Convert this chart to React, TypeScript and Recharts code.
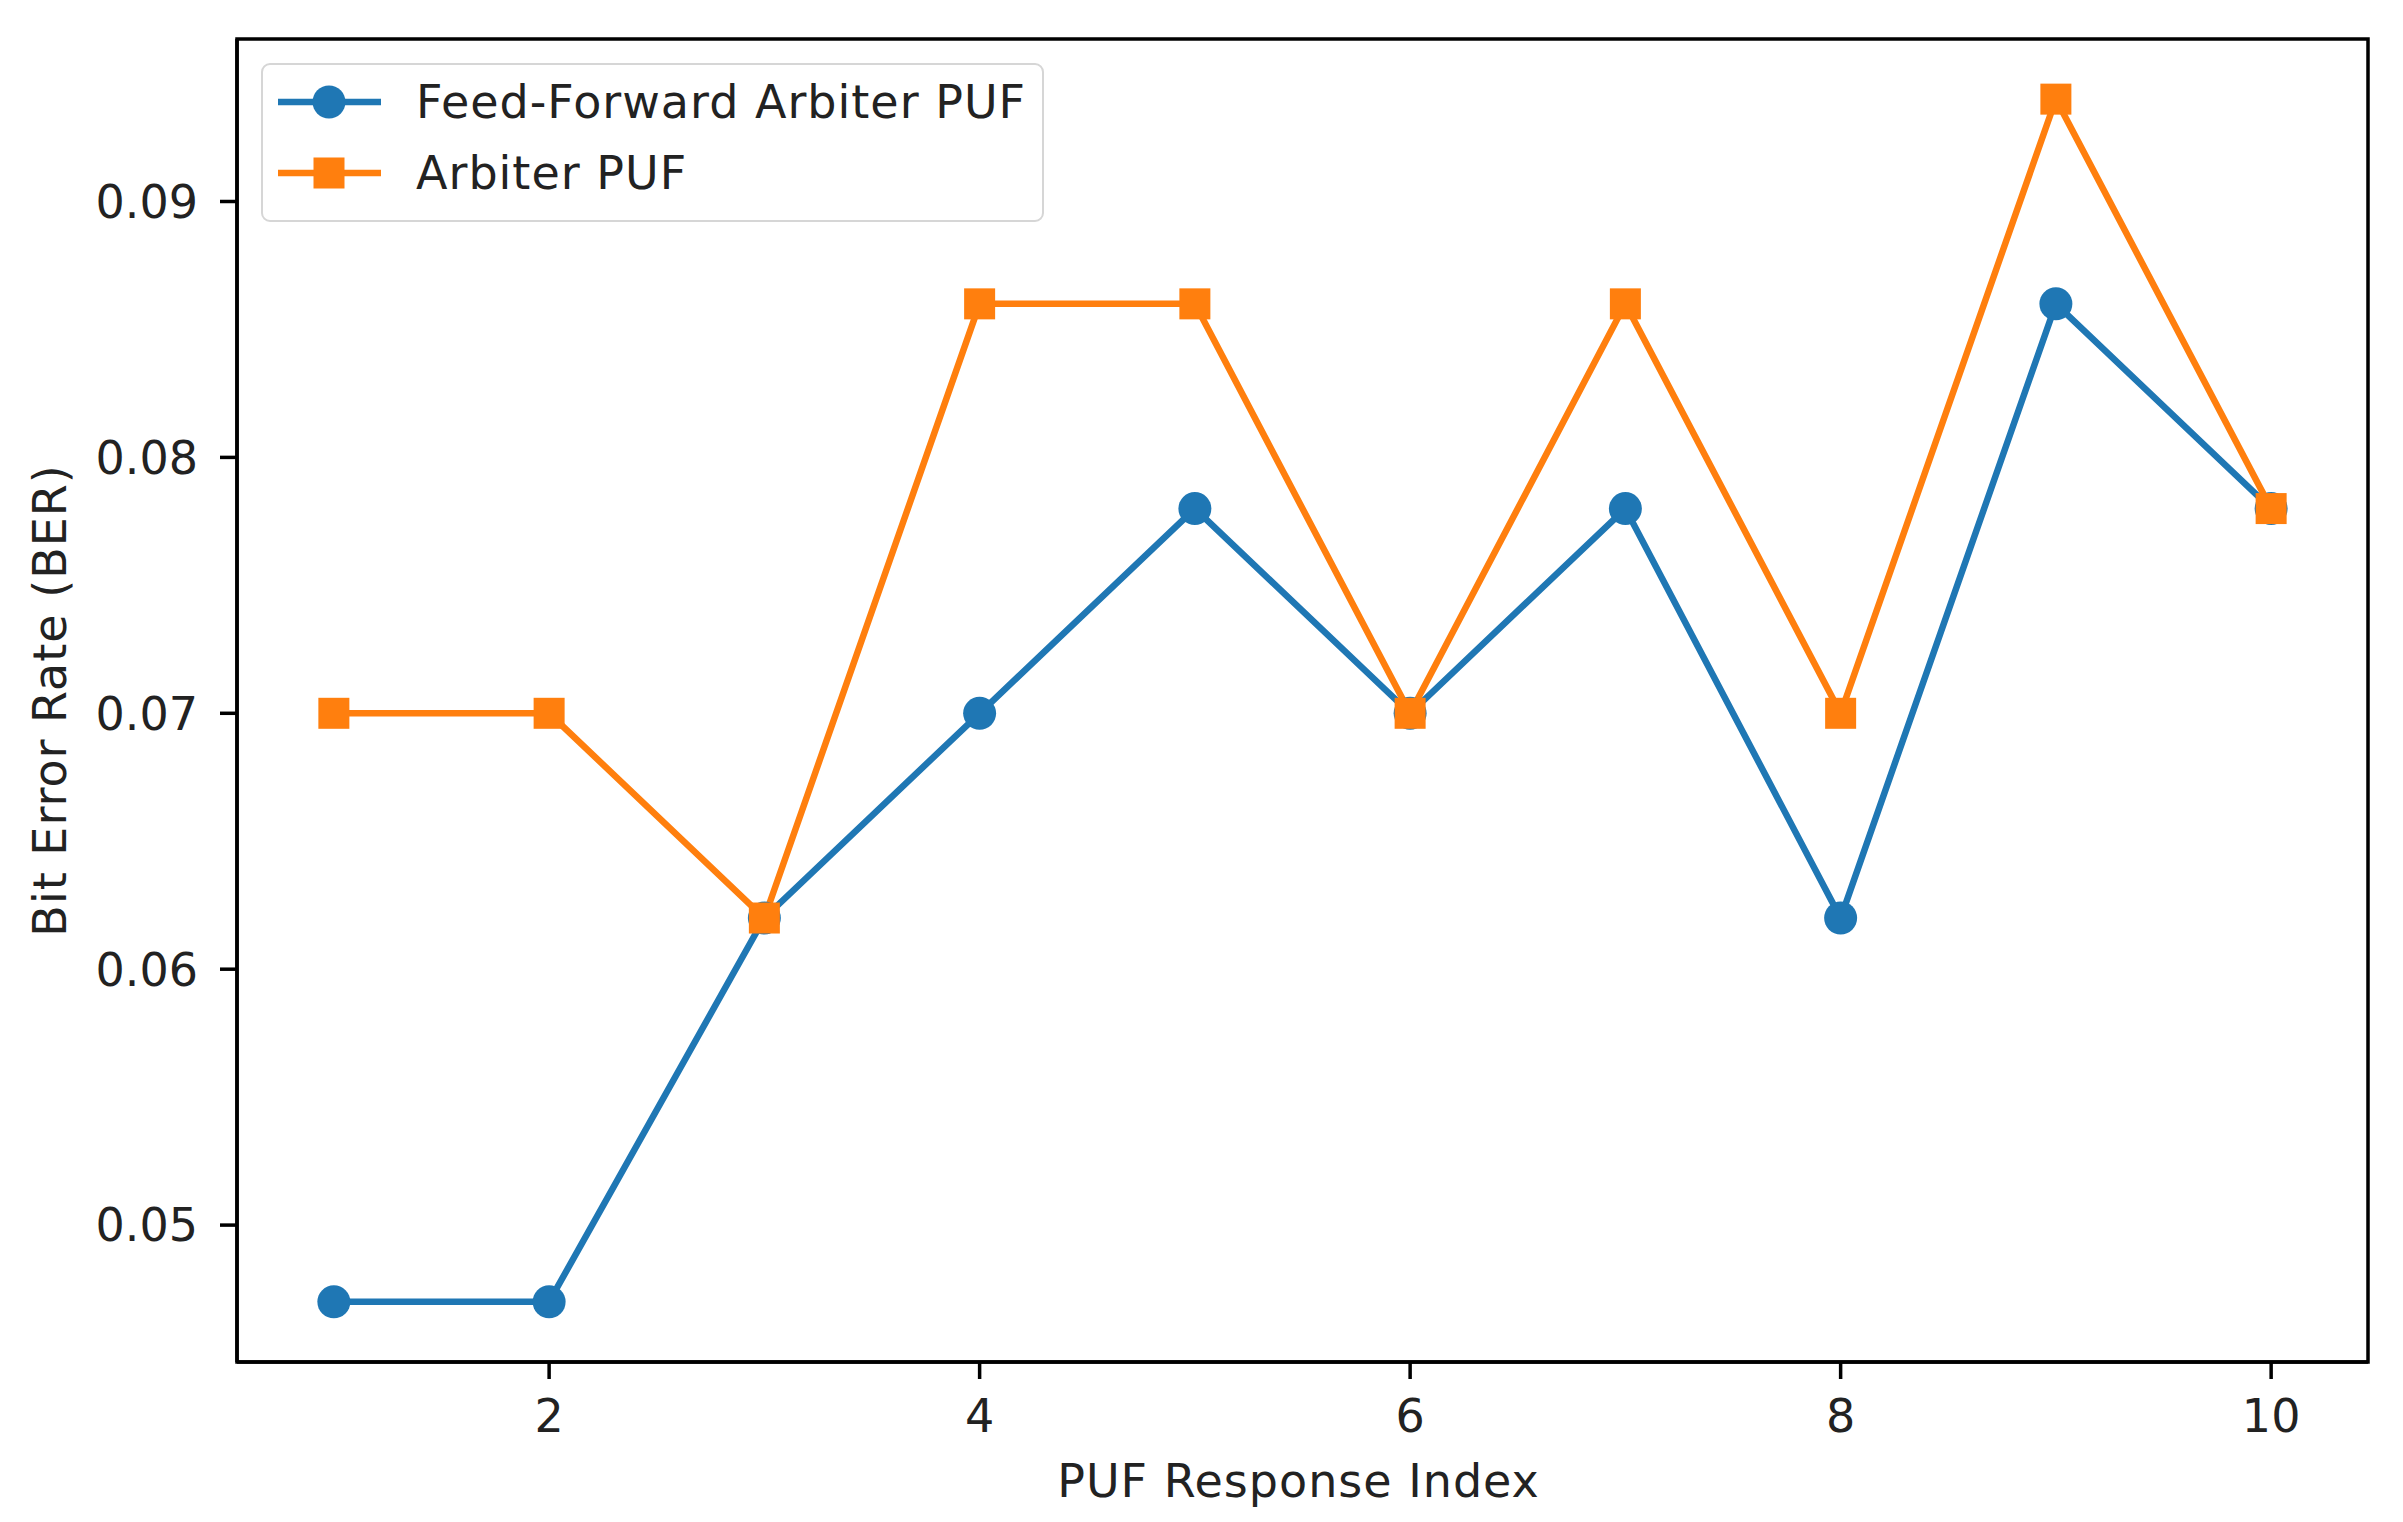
import React from 'react';
import { LineChart, Line, XAxis, YAxis, Legend, ReferenceArea } from 'recharts';

// PUF response index vs bit error rate
const responseIndex = [1, 2, 3, 4, 5, 6, 7, 8, 9, 10];
const feedForwardBer = [0.047, 0.047, 0.062, 0.07, 0.078, 0.07, 0.078, 0.062, 0.086, 0.078];
const arbiterBer = [0.07, 0.07, 0.062, 0.086, 0.086, 0.07, 0.086, 0.07, 0.094, 0.078];
const xTicks = [2, 4, 6, 8, 10];
const yTicks = [0.05, 0.06, 0.07, 0.08, 0.09];
const seriesNames = ['Feed-Forward Arbiter PUF', 'Arbiter PUF'];

const BLUE = '#1f77b4';
const ORANGE = '#ff7f0e';
const FONT = '"DejaVu Sans", sans-serif';
const FS = 46;

const data = responseIndex.map((idx, i) => ({ idx, ff: feedForwardBer[i], arb: arbiterBer[i] }));

// matplotlib style 5% margins
const pad = (lo: number, hi: number): [number, number] => [lo - (hi - lo) * 0.05, hi + (hi - lo) * 0.05];
const xDomain = pad(Math.min(...responseIndex), Math.max(...responseIndex));
const yDomain = pad(Math.min(...feedForwardBer, ...arbiterBer), Math.max(...feedForwardBer, ...arbiterBer));

const CircleDot = (p: any) => <circle key={`c-${p.index}`} cx={p.cx} cy={p.cy} r={16.5} fill={BLUE} />;
const SquareDot = (p: any) => (
  <rect key={`s-${p.index}`} x={p.cx - 15.5} y={p.cy - 15.5} width={31} height={31} fill={ORANGE} />
);

const YLabel = (props: any) => {
  const vb = props.viewBox || { y: 39, height: 1323 };
  const x = 66;
  const y = vb.y + vb.height / 2;
  return (
    <text
      x={x}
      y={y}
      transform={`rotate(-90, ${x}, ${y})`}
      textAnchor="middle"
      fill="#222"
      fontSize={FS}
      fontFamily={FONT}
      letterSpacing={1}
    >
      Bit Error Rate (BER)
    </text>
  );
};

const LegendBox = () => {
  const colors = [BLUE, ORANGE];
  return (
    <div
      style={{
        width: 783,
        height: 159,
        boxSizing: 'border-box',
        border: '2px solid #d6d6d6',
        borderRadius: 9,
        background: 'rgba(255,255,255,0.8)',
        paddingTop: 1,
        fontFamily: FONT,
        fontSize: FS,
        letterSpacing: 1,
        color: '#222',
      }}
    >
      {seriesNames.map((name, i) => (
        <div key={name} style={{ height: 71, display: 'flex', alignItems: 'center' }}>
          <svg width={140} height={40} style={{ marginLeft: 13, flex: 'none' }}>
            <line x1={2} x2={105} y1={20} y2={20} stroke={colors[i]} strokeWidth={6.5} />
            {i === 0 ? (
              <circle cx={53} cy={20} r={16.5} fill={BLUE} />
            ) : (
              <rect x={37.5} y={4.5} width={31} height={31} fill={ORANGE} />
            )}
          </svg>
          <span style={{ whiteSpace: 'nowrap' }}>{name}</span>
        </div>
      ))}
    </div>
  );
};

export default function App() {
  return (
    <div style={{ position: 'absolute', left: 0, top: 0, width: 2403, height: 1522, background: '#fff' }}>
      <LineChart width={2403} height={1522} data={data} margin={{ top: 39, right: 35, left: 0, bottom: 0 }}>
        <XAxis
          dataKey="idx"
          type="number"
          domain={xDomain}
          ticks={xTicks}
          allowDataOverflow
          height={160}
          stroke="#000"
          strokeWidth={3.5}
          tickSize={17}
          tickMargin={20}
          tick={{ fill: '#222', fontSize: FS, fontFamily: FONT }}
          label={{
            value: 'PUF Response Index',
            position: 'insideBottom',
            offset: 25,
            fill: '#222',
            fontSize: FS,
            fontFamily: FONT,
            letterSpacing: 1,
            dx: -4,
          }}
        />
        <YAxis
          type="number"
          domain={yDomain}
          ticks={yTicks}
          allowDataOverflow
          width={237}
          stroke="#000"
          strokeWidth={3.5}
          tickSize={17}
          tickMargin={22}
          tickFormatter={(v: number) => v.toFixed(2)}
          tick={{ fill: '#222', fontSize: FS, fontFamily: FONT }}
          label={<YLabel />}
        />
        <ReferenceArea
          x1={xDomain[0]}
          x2={xDomain[1]}
          y1={yDomain[0]}
          y2={yDomain[1]}
          fill="none"
          fillOpacity={0}
          stroke="#000"
          strokeWidth={3.5}
        />
        <Line
          dataKey="ff"
          name={seriesNames[0]}
          stroke={BLUE}
          strokeWidth={6.5}
          dot={CircleDot}
          activeDot={false}
          isAnimationActive={false}
        />
        <Line
          dataKey="arb"
          name={seriesNames[1]}
          stroke={ORANGE}
          strokeWidth={6.5}
          dot={SquareDot}
          activeDot={false}
          isAnimationActive={false}
        />
        <Legend
          layout="vertical"
          align="center"
          verticalAlign="middle"
          wrapperStyle={{ left: 261, top: 63, width: 783, height: 159 }}
          content={<LegendBox />}
        />
      </LineChart>
    </div>
  );
}
